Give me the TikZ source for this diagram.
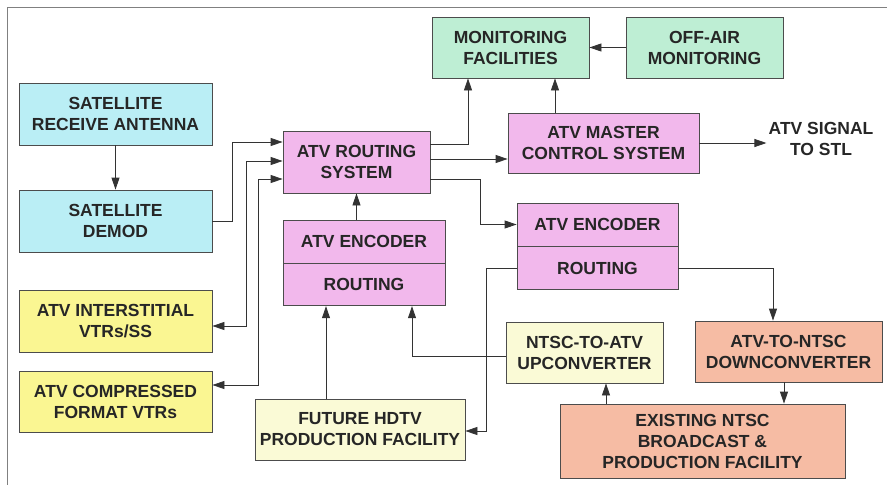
\documentclass[tikz,border=0pt]{standalone}
\usepackage{fontspec}
\setmainfont{Liberation Sans}
\usetikzlibrary{arrows.meta, positioning}

\definecolor{satcyan}{RGB}{186,238,245}
\definecolor{atvpink}{RGB}{242,184,236}
\definecolor{monigreen}{RGB}{190,238,212}
\definecolor{vtryellow}{RGB}{250,246,146}
\definecolor{convyellow}{RGB}{250,250,214}
\definecolor{ntscsalmon}{RGB}{246,188,164}

\begin{document}
\begin{tikzpicture}[x=1pt, y=-1pt,
            blok/.style = {rectangle, draw=black!70, line width=0.8pt, inner sep=0pt,
                           font=\fontsize{17.5}{21}\selectfont\bfseries, text=black!85,
                           align=center},
            sat/.style  = {blok, fill=satcyan},
            atv/.style  = {blok, fill=atvpink},
            moni/.style = {blok, fill=monigreen},
            vtr/.style  = {blok, fill=vtryellow},
            conv/.style = {blok, fill=convyellow},
            ntsc/.style = {blok, fill=ntscsalmon},
            pijl/.style = {draw=black!80, line width=0.8pt, -{Triangle[length=12pt,width=8pt]}},
            dubbel/.style = {pijl, {Triangle[length=12pt,width=8pt]}-{Triangle[length=12pt,width=8pt]}}
                                 ]
            \useasboundingbox (0,0) rectangle (887,485);
            \draw [black!50, line width=0.8pt] (887,7) -- (7,7) -- (7,485);
            %
            \node[sat, minimum width=193pt, minimum height=62pt] (ANT) at (115.5,114) {SATELLITE\\RECEIVE ANTENNA};
            \node[sat, minimum width=193pt, minimum height=62pt] (DEM) at (115.5,221) {SATELLITE\\DEMOD};
            \node[vtr, minimum width=193pt, minimum height=62pt] (INT) at (115.5,321) {ATV INTERSTITIAL\\VTRs/SS};
            \node[vtr, minimum width=193pt, minimum height=61pt] (CMP) at (115.5,401.5) {ATV COMPRESSED\\FORMAT VTRs};
            \node[atv, minimum width=147pt, minimum height=62pt] (ROUT) at (356.5,162) {ATV ROUTING\\SYSTEM};
            \node[atv, minimum width=162pt, minimum height=43pt] (ENCL) at (364,241.5) {ATV ENCODER};
            \node[atv, minimum width=162pt, minimum height=42pt, below=0pt of ENCL] (RTEL) {ROUTING};
            \node[conv, minimum width=210pt, minimum height=61pt] (HDTV) at (360,429.5) {FUTURE HDTV\\PRODUCTION FACILITY};
            \node[moni, minimum width=157pt, minimum height=61pt] (MON) at (510.5,47.5) {MONITORING\\FACILITIES};
            \node[moni, minimum width=157pt, minimum height=61pt] (OFF) at (704.5,47.5) {OFF-AIR\\MONITORING};
            \node[atv, minimum width=191pt, minimum height=60pt] (MCS) at (603.5,143) {ATV MASTER\\CONTROL SYSTEM};
            \node[font=\fontsize{17.5}{21}\selectfont\bfseries, text=black!85, align=center, inner sep=2pt] (STL) at (821,139) {ATV SIGNAL\\TO STL};
            \node[atv, minimum width=161pt, minimum height=43pt] (ENCR) at (597.5,224.5) {ATV ENCODER};
            \node[atv, minimum width=161pt, minimum height=43pt, below=0pt of ENCR] (RTER) {ROUTING};
            \node[conv, minimum width=157pt, minimum height=61pt] (UPC) at (584.5,352.5) {NTSC-TO-ATV\\UPCONVERTER};
            \node[ntsc, minimum width=187pt, minimum height=61pt] (DNC) at (788.5,351.5) {ATV-TO-NTSC\\DOWNCONVERTER};
            \node[ntsc, minimum width=285pt, minimum height=74pt] (EXS) at (702.5,441) {EXISTING NTSC\\BROADCAST \&\\PRODUCTION FACILITY};
            %
            \draw [pijl] (ANT) -- (DEM);
            \draw [pijl] (DEM.east) -- ++(20,0) |- ([yshift=20pt]ROUT.west);
            \draw [dubbel] ([yshift=-5pt]INT.east) -- ++(34,0) |- ([yshift=1pt]ROUT.west);
            \draw [dubbel] ([yshift=16.5pt]CMP.east) -- ++(46,0) |- ([yshift=-17pt]ROUT.west);
            \draw [pijl] (ENCL.north -| ROUT.south) -- (ROUT.south);
            \draw [pijl] ([xshift=-34pt]HDTV.north) -- ([xshift=-34pt]HDTV.north |- RTEL.south);
            \draw [pijl] ([yshift=-3.5pt]UPC.west) -| ([xshift=48pt]RTEL.south);
            \draw [pijl] ([yshift=18pt]ROUT.east) -| ([xshift=-42.5pt]MON.south);
            \draw [pijl] ([yshift=-16pt]MCS.west -| ROUT.east) -- ([yshift=-16pt]MCS.west);
            \draw [pijl] ([yshift=-17pt]ROUT.east) -- ++(50,0) |- (ENCR.west);
            \draw [pijl] ([xshift=-48.5pt]MCS.north) -- ([xshift=-48.5pt]MCS.north |- MON.south);
            \draw [pijl] (OFF) -- (MON);
            \draw [pijl] (MCS.east) -- (MCS.east -| STL.west);
            \draw [pijl] (RTER.west) -- ++(-30,0) |- ([yshift=-1.5pt]HDTV.east);
            \draw [pijl] (RTER.east) -| ([xshift=-15.5pt]DNC.north);
            \draw [pijl] ([xshift=-4.5pt]DNC.south) -- ([xshift=-4.5pt]DNC.south |- EXS.north);
            \draw [pijl] ([xshift=-96.5pt]EXS.north) -- ([xshift=-96.5pt]EXS.north |- UPC.south);
\end{tikzpicture}
\end{document}
